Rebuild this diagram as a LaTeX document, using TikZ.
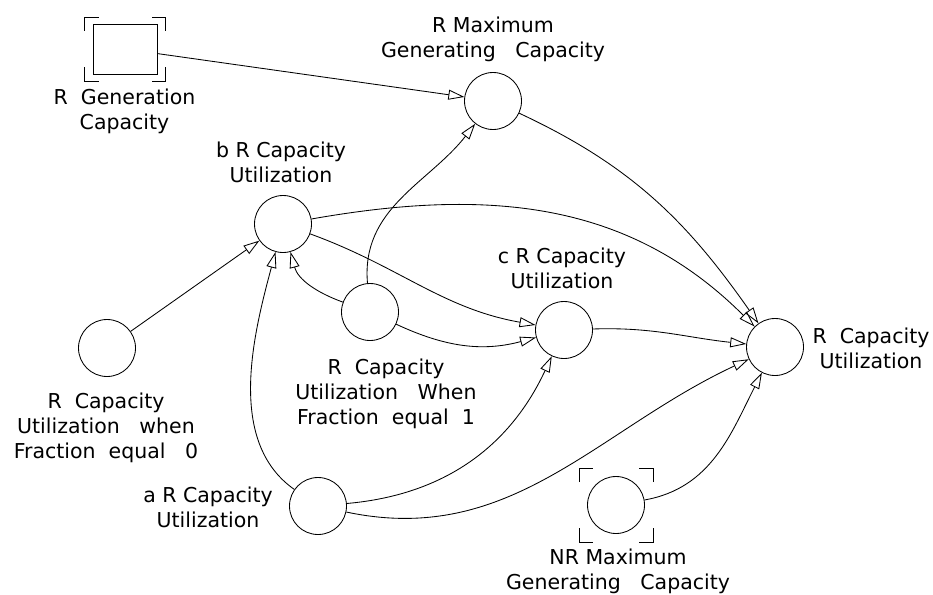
\documentclass[tikz,border=0pt]{standalone}
\usepackage{fontspec}
\setmainfont{DejaVu Sans}
\usetikzlibrary{arrows.meta,calc}
% corner marks drawn around a shadow variable: node, half width, half height
\newcommand{\cornermarks}[3]{%
  \draw ($(#1)+(-#2,#3-14)$) -- ($(#1)+(-#2,#3)$) -- ($(#1)+(-#2+14,#3)$);
  \draw ($(#1)+(#2,#3-14)$) -- ($(#1)+(#2,#3)$) -- ($(#1)+(#2-14,#3)$);
  \draw ($(#1)+(-#2,-#3+14)$) -- ($(#1)+(-#2,-#3)$) -- ($(#1)+(-#2+14,-#3)$);
  \draw ($(#1)+(#2,-#3+14)$) -- ($(#1)+(#2,-#3)$) -- ($(#1)+(#2-14,-#3)$);
}
\begin{document}
\begin{tikzpicture}[x=1pt,y=1pt,line width=0.85pt,
  aux/.style={circle,draw,minimum size=57pt,inner sep=0pt},
  level/.style={rectangle,draw,minimum width=64pt,minimum height=50pt,inner sep=0pt},
  lbl/.style={align=center,anchor=north,inner sep=0pt,font=\fontsize{20.5}{25}\selectfont},
  link/.style={-{Triangle[open,length=16pt,width=10pt]}},
]
\useasboundingbox (0,0) rectangle (933,-594);

% stock and variables
\node[level] (gen) at (125,-49) {};
\cornermarks{gen}{40.5}{32}
\node[aux] (rmax)  at (493,-101) {};
\node[aux] (b)     at (283,-224) {};
\node[aux] (frac1) at (370,-312) {};
\node[aux] (c)     at (564,-330) {};
\node[aux] (rcap)  at (775,-347) {};
\node[aux] (frac0) at (107,-348) {};
\node[aux] (a)     at (318,-506) {};
\node[aux] (nr)    at (616,-505) {};
\cornermarks{nr}{37}{37}

% labels
\node[lbl] (genL)   at (124.5,-88) {R~~Generation\\Capacity};
\node[lbl] (rmaxL)  at (493,-17)   {R Maximum\\Generating~~~Capacity};
\node[lbl] (bL)     at (281,-141)  {b R Capacity\\Utilization};
\node[lbl] (cL)     at (562,-247)  {c R Capacity\\Utilization};
\node[lbl] (rcapL)  at (871,-327)  {R~~Capacity\\Utilization};
\node[lbl] (frac1L) at (386,-358)  {R~~Capacity\\Utilization~~~When\\Fraction~~equal~~1};
\node[lbl] (frac0L) at (106,-392)  {R~~Capacity\\Utilization~~~when\\Fraction~~equal~~~0};
\node[lbl] (aL)     at (208,-486)  {a R Capacity\\Utilization};
\node[lbl] (nrL)    at (618,-548)  {NR Maximum\\Generating~~~Capacity};

% causal links
\draw[link] (gen) -- (rmax);
\draw[link] (frac1) to[out=95,in=232] (rmax);
\draw[link] (rmax) to[out=-25,in=125] (rcap);
\draw[link] (b) to[out=10,in=135] (rcap);
\draw[link] (b) to[out=-20,in=170] (c);
\draw[link] (frac1) to[out=160,in=-75] (b);
\draw[link] (frac0) -- (b);
\draw[link] (a) to[out=145,in=-105,looseness=0.9] (b);
\draw[link] (frac1) to[out=-25,in=195] (c);
\draw[link] (a) to[out=5,in=245] (c);
\draw[link] (a) to[out=-12,in=205] (rcap);
\draw[link] (c) to[out=2,in=174] (rcap);
\draw[link] (nr) to[out=10,in=243] (rcap);
\end{tikzpicture}
\end{document}
